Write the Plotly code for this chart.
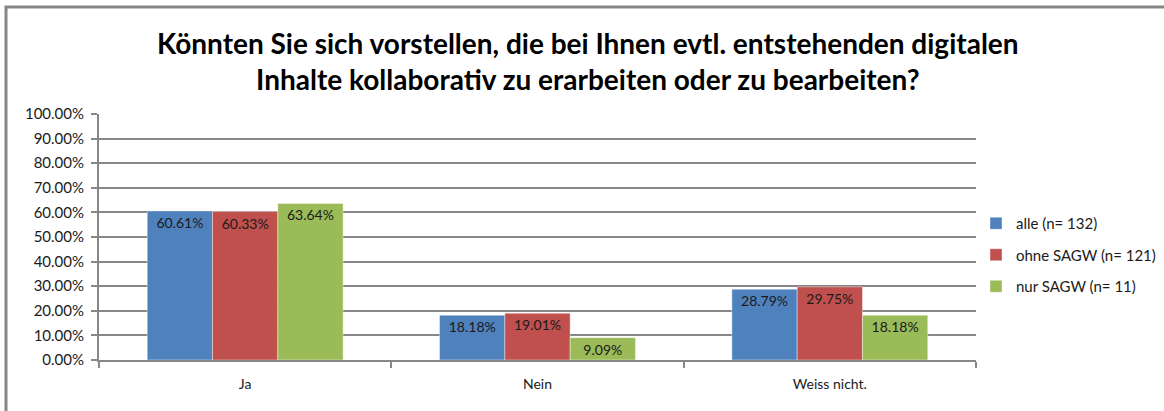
import plotly.graph_objects as go

categories = ["Ja", "Nein", "Weiss nicht."]
series_names = ["alle (n= 132)", "ohne SAGW (n= 121)", "nur SAGW (n= 11)"]
alle = [60.61, 18.18, 28.79]
ohne_sagw = [60.33, 19.01, 29.75]
nur_sagw = [63.64, 9.09, 18.18]
colors = ["#4F81BD", "#C0504D", "#9BBB59"]
y_ticks = [0, 10, 20, 30, 40, 50, 60, 70, 80, 90, 100]

W, H = 1164, 411
L, R, T, B = 99, 188, 114, 51
pw, ph = W - L - R, H - T - B

font_family = "Lato, 'Open Sans', sans-serif"
fig = go.Figure()
for name, vals, col in zip(series_names, [alle, ohne_sagw, nur_sagw], colors):
    fig.add_trace(go.Bar(
        x=categories, y=vals, name=name, legendgroup=name,
        marker=dict(color=col, line=dict(color="rgba(255,255,255,0.4)", width=1)),
        texttemplate="%{y:.2f}%", textposition="inside", insidetextanchor="end",
        textangle=0, constraintext="none",
        textfont=dict(family=font_family, size=14, color="#1a1a1a"),
    ))

fig.update_layout(
    width=W, height=H,
    margin=dict(l=L, r=R, t=T, b=B, autoexpand=False),
    paper_bgcolor="white", plot_bgcolor="white",
    barmode="group", bargap=0.33, bargroupgap=0,
    title=dict(
        text="Könnten Sie sich vorstellen, die bei Ihnen evtl. entstehenden digitalen<br>Inhalte kollaborativ zu erarbeiten oder zu bearbeiten?",
        x=0.505, xanchor="center", xref="container",
        y=1 - 54 / H, yanchor="middle", yref="container",
        font=dict(family=font_family, size=28, color="#000000", weight="bold"),
    ),
    font=dict(family=font_family, size=14, color="#1a1a1a"),
    legend=dict(
        x=1.0, y=(360 - 255) / ph, xanchor="left", yanchor="middle",
        traceorder="grouped", tracegroupgap=9,
        font=dict(size=15, color="#1a1a1a"), itemwidth=30,
    ),
    xaxis=dict(
        showline=True, linecolor="#878787", linewidth=2,
        ticks="outside", tickson="boundaries", ticklen=6, tickcolor="#878787", tickwidth=2,
        showgrid=False, tickfont=dict(size=14), ticklabelstandoff=10,
    ),
    yaxis=dict(
        range=[0, 100], tickvals=y_ticks, ticktext=[f"{v:.2f}%" for v in y_ticks],
        showline=True, linecolor="#878787", linewidth=2,
        ticks="outside", ticklen=6, tickcolor="#878787", tickwidth=2,
        showgrid=True, gridcolor="#878787", gridwidth=2,
        tickfont=dict(size=15), zeroline=False, ticklabelstandoff=4,
    ),
    shapes=[dict(
        type="rect", xref="paper", yref="paper",
        x0=(6 - L) / pw, x1=(W + 10 - L) / pw,
        y0=(H - B - (H + 10)) / ph, y1=(H - B - 7) / ph,
        line=dict(color="#878787", width=3), fillcolor="rgba(0,0,0,0)", layer="below",
    )],
)

fig.write_html("out.html")
